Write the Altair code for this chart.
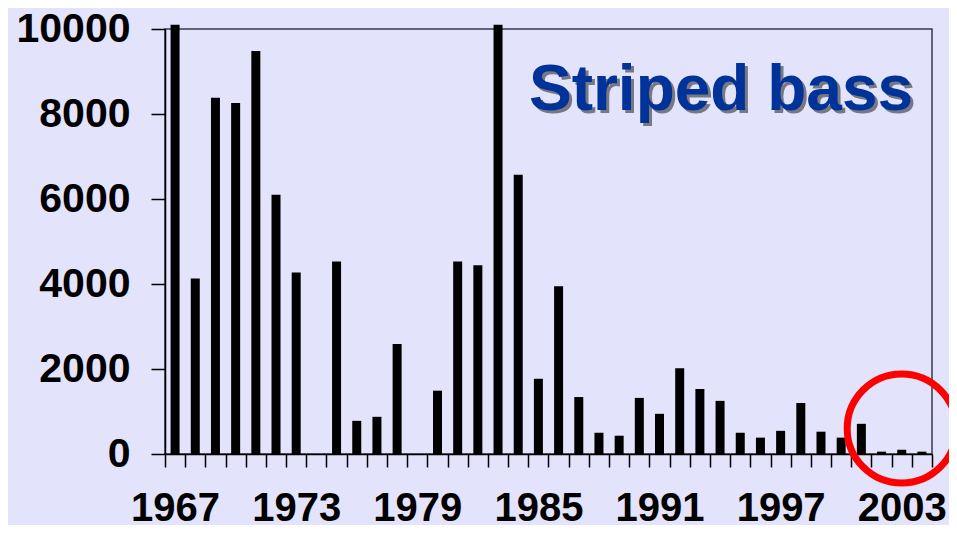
import altair as alt
import pandas as pd

years = [str(y) for y in range(1967, 2005)]
values = [10100, 4130, 8380, 8260, 9480, 6100, 4270, 0, 4530, 780,
          875, 2590, 0, 1490, 4530, 4440, 10100, 6570, 1770, 3950,
          1340, 500, 430, 1320, 945, 2020, 1530, 1250, 500, 385,
          545, 1200, 525, 385, 710, 55, 100, 55]
y_ticks = [0, 2000, 4000, 6000, 8000, 10000]
title_text = "Striped bass"
highlight_year = ["2003"]
highlight_value = [600]

df = pd.DataFrame({"year": years, "value": values})
hl = pd.DataFrame({"year": highlight_year, "value": highlight_value})

FONT = "Liberation Sans"
BG = "#E3E3FC"

xscale = alt.Scale(domain=years, paddingInner=0, paddingOuter=0)
yscale = alt.Scale(domain=[0, 10000], nice=False)

x_axis = alt.Axis(
    title=None, labelAngle=0, labelFontSize=40, labelFontWeight="bold",
    labelColor="black", labelFont=FONT, tickSize=13, tickColor="black",
    tickWidth=1.5, domainColor="black", domainWidth=1.5, tickBand="extent",
    labelPadding=21, labelOverlap=False,
    labelExpr="(toNumber(datum.value) - 1967) % 6 == 0 ? datum.value : ''",
)
y_axis = alt.Axis(
    title=None, values=y_ticks, format="d", labelFontSize=41,
    labelFontWeight="bold", labelColor="black", labelFont=FONT,
    tickSize=14, tickColor="black", tickWidth=1.5, domainColor="black",
    domainWidth=1.5, labelPadding=21, grid=False,
)

bars = alt.Chart(df).mark_bar(color="black", clip=False, width=9).encode(
    x=alt.X("year:N", scale=xscale, axis=x_axis, sort=years),
    y=alt.Y("value:Q", scale=yscale, axis=y_axis),
)

label_df = df[df["year"] == "1967"]

shadow = alt.Chart(label_df).mark_text(
    text=title_text, font=FONT, fontSize=64, fontWeight="bold",
    color="#222222", opacity=0.55, align="center", baseline="alphabetic",
).encode(x=alt.value(559), y=alt.value(84))

title = alt.Chart(label_df).mark_text(
    text=title_text, font=FONT, fontSize=64, fontWeight="bold",
    color="#003399", align="center", baseline="alphabetic",
).encode(x=alt.value(556), y=alt.value(81))

circle = alt.Chart(hl).mark_point(
    shape="circle", filled=False, color="#FF0000", strokeWidth=7,
    size=11900, opacity=1, clip=False,
).encode(
    x=alt.X("year:N", scale=xscale, sort=years),
    y=alt.Y("value:Q", scale=yscale),
)

chart = alt.layer(bars, shadow, title, circle).properties(
    width=767, height=425,
    background=BG,
    autosize=alt.AutoSizeParams(type="none"),
    padding={"left": 157, "top": 21, "right": 17, "bottom": 71},
).configure_view(stroke="#3a3a48", strokeWidth=1.5)

chart.save("out.html", embed_options={"renderer": "svg", "actions": False})
